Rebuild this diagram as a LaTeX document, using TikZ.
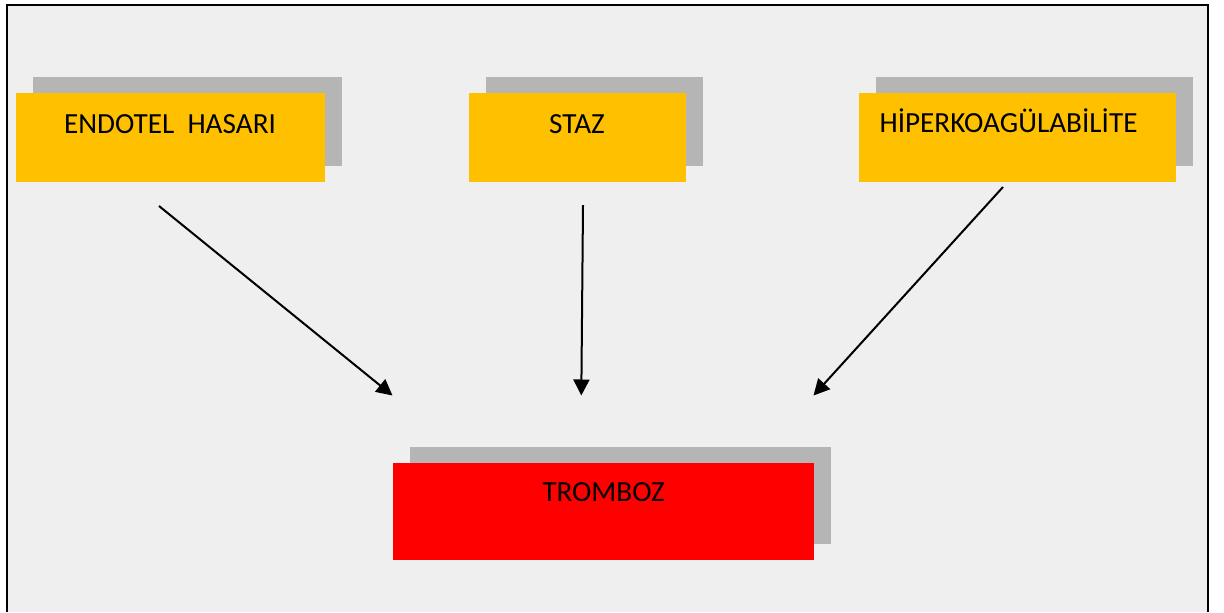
\documentclass[tikz,border=0pt]{standalone}
\usepackage{fontspec}
\setmainfont{Carlito}
\usetikzlibrary{arrows.meta,shadows}
\definecolor{bg}{RGB}{239,239,239}
\definecolor{amber}{RGB}{255,192,0}
\definecolor{shade}{RGB}{181,181,181}
\definecolor{alarm}{RGB}{255,0,0}
\tikzset{
  card/.style={inner sep=0pt, draw=none,
    drop shadow={shadow xshift=8.5pt, shadow yshift=8pt, fill=shade, opacity=1}},
  cause/.style={card, fill=amber, minimum height=44.25pt},
  result/.style={card, fill=alarm, minimum height=48.5pt},
  caption/.style={anchor=base, inner sep=0pt, font=\fontsize{14.6pt}{17pt}\selectfont},
  link/.style={line width=1pt, -{Triangle[length=8pt,width=8pt]}}
}
\begin{document}
\begin{tikzpicture}[x=0.5pt,y=-0.5pt]
\useasboundingbox (0,0) rectangle (1224,612);
% panel and its frame (open at the bottom)
\fill[bg] (7,5) rectangle (1208,612);
\draw[line width=1pt] (7,612) -- (7,5) -- (1208,5) -- (1208,612);

% the three causes and the result
\node[cause, minimum width=154.5pt] (endo) at (170.5,137.25) {};
\node[cause, minimum width=108.5pt] (staz) at (577.5,137.25) {};
\node[cause, minimum width=158.5pt] (hiper) at (1017.5,137.25) {};
\node[result, minimum width=210.5pt] (tromb) at (603.5,511.5) {};

% captions sit near the top of each box
\node[caption] (endo-t) at (170,133) {ENDOTEL\ \ HASARI};
\node[caption] (staz-t) at (577,133) {STAZ};
\node[caption] (hiper-t) at (1008.5,132.5) {HİPERKOAGÜLABİLİTE};
\node[caption] (tromb-t) at (603.5,501.5) {TROMBOZ};

% arrow end points
\coordinate (e0) at (159,206);
\coordinate (e1) at (392.5,395.5);
\coordinate (s0) at (583,205);
\coordinate (s1) at (581.3,395.5);
\coordinate (h0) at (1003,187);
\coordinate (h1) at (813.5,395.5);

\draw[link] (e0) -- (e1);
\draw[link] (s0) -- (s1);
\draw[link] (h0) -- (h1);
\end{tikzpicture}
\end{document}
